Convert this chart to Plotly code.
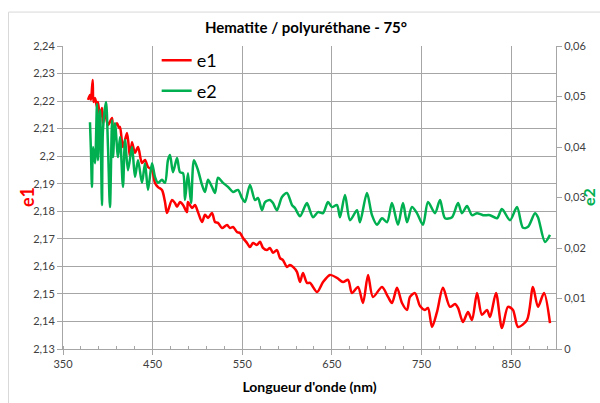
import plotly.graph_objects as go

# Wavelength (nm) and real part of the dielectric function e1
wl_e1 = [377.9, 380.1, 381.2, 383.1, 384.0, 385.7, 387.9, 389.0, 391.3, 393.5,
         394.6, 396.9, 400.2, 404.7, 405.8, 410.2, 412.5, 413.6, 416.9, 421.4,
         424.7, 427.0, 430.3, 433.7, 438.1, 441.5, 444.8, 449.3, 452.6, 456.0,
         460.4, 463.8, 466.0, 471.6, 474.9, 477.2, 480.5, 483.9, 488.3, 489.4,
         493.9, 497.3, 500.6, 505.1, 508.4, 511.8, 516.2, 519.6, 522.9, 527.4,
         533.0, 536.3, 539.7, 544.1, 547.5, 550.8, 555.3, 558.6, 562.0, 566.4,
         569.8, 573.1, 577.6, 580.9, 584.3, 588.7, 592.1, 595.4, 599.9, 603.2,
         606.6, 611.0, 614.4, 617.7, 622.2, 625.6, 633.4, 640.1, 647.9, 655.7,
         662.4, 668.0, 672.4, 679.1, 684.7, 690.3, 695.8, 705.9, 712.6, 717.0,
         722.6, 728.2, 733.8, 737.1, 742.7, 748.3, 753.8, 757.2, 761.7, 767.2,
         773.9, 781.7, 787.3, 790.7, 796.2, 801.8, 806.3, 811.9, 817.4, 823.0,
         826.4, 833.1, 839.7, 846.4, 852.0, 857.6, 867.6, 874.3, 879.9, 886.6,
         893.3]
e1 = [2.2204, 2.2222, 2.2204, 2.2277, 2.2197, 2.2211, 2.2179, 2.2197, 2.2142, 2.2175,
      2.2120, 2.2157, 2.2113, 2.2139, 2.2102, 2.2120, 2.2102, 2.2106, 2.2033, 2.2084,
      2.1997, 2.2051, 2.2012, 2.2033, 2.1975, 2.1986, 2.1961, 2.1950, 2.1903, 2.1888,
      2.1877, 2.1834, 2.1794, 2.1841, 2.1830, 2.1816, 2.1834, 2.1823, 2.1797, 2.1834,
      2.1812, 2.1823, 2.1797, 2.1761, 2.1787, 2.1776, 2.1794, 2.1761, 2.1758, 2.1739,
      2.1750, 2.1739, 2.1743, 2.1725, 2.1721, 2.1703, 2.1685, 2.1670, 2.1685, 2.1678,
      2.1689, 2.1667, 2.1659, 2.1667, 2.1649, 2.1659, 2.1630, 2.1623, 2.1598, 2.1605,
      2.1598, 2.1580, 2.1543, 2.1576, 2.1540, 2.1540, 2.1507, 2.1543, 2.1569, 2.1558,
      2.1543, 2.1551, 2.1503, 2.1525, 2.1467, 2.1569, 2.1489, 2.1525, 2.1489, 2.1467,
      2.1522, 2.1467, 2.1442, 2.1489, 2.1503, 2.1456, 2.1442, 2.1449, 2.1380, 2.1434,
      2.1522, 2.1453, 2.1463, 2.1449, 2.1398, 2.1434, 2.1405, 2.1503, 2.1424, 2.1442,
      2.1416, 2.1503, 2.1376, 2.1453, 2.1442, 2.1380, 2.1405, 2.1525, 2.1453, 2.1503,
      2.1394]

# Wavelength (nm) and imaginary part e2
wl_e2 = [380.1, 381.2, 382.3, 383.5, 385.7, 387.9, 389.0, 391.3, 393.5, 394.6,
         398.0, 400.2, 402.4, 404.7, 405.8, 408.0, 411.4, 413.6, 416.9, 419.2,
         422.5, 427.0, 430.3, 433.7, 438.1, 441.5, 444.8, 449.3, 452.6, 456.0,
         460.4, 463.8, 467.1, 469.4, 472.7, 477.2, 480.5, 483.9, 486.1, 489.4,
         492.8, 496.1, 500.6, 505.1, 508.4, 511.8, 516.2, 519.6, 522.9, 528.5,
         534.1, 539.7, 545.2, 549.7, 553.0, 558.6, 564.2, 567.5, 572.0, 575.4,
         580.9, 584.3, 588.7, 594.3, 599.9, 605.5, 608.8, 614.4, 620.0, 622.2,
         628.9, 634.5, 640.1, 645.6, 650.1, 655.7, 659.0, 664.6, 670.2, 678.0,
         681.3, 689.1, 694.7, 700.3, 705.9, 711.5, 717.0, 723.7, 729.3, 733.8,
         739.3, 744.9, 751.6, 757.2, 765.0, 770.6, 776.2, 784.0, 790.7, 795.1,
         800.7, 806.3, 811.9, 818.6, 826.4, 834.2, 839.7, 848.7, 856.5, 863.2,
         868.8, 876.6, 879.9, 887.7, 893.3]
e2 = [0.0449, 0.0390, 0.0321, 0.0400, 0.0368, 0.0485, 0.0374, 0.0473, 0.0285, 0.0434,
      0.0489, 0.0400, 0.0281, 0.0453, 0.0380, 0.0447, 0.0380, 0.0420, 0.0321, 0.0414,
      0.0354, 0.0400, 0.0341, 0.0374, 0.0329, 0.0368, 0.0315, 0.0368, 0.0341, 0.0329,
      0.0335, 0.0329, 0.0374, 0.0384, 0.0350, 0.0378, 0.0350, 0.0348, 0.0295, 0.0348,
      0.0289, 0.0374, 0.0354, 0.0325, 0.0311, 0.0335, 0.0321, 0.0309, 0.0339, 0.0329,
      0.0321, 0.0311, 0.0315, 0.0299, 0.0291, 0.0325, 0.0295, 0.0299, 0.0275, 0.0291,
      0.0295, 0.0289, 0.0275, 0.0301, 0.0309, 0.0285, 0.0279, 0.0263, 0.0283, 0.0289,
      0.0261, 0.0271, 0.0269, 0.0291, 0.0281, 0.0285, 0.0261, 0.0305, 0.0255, 0.0275,
      0.0251, 0.0309, 0.0265, 0.0246, 0.0259, 0.0251, 0.0289, 0.0246, 0.0289, 0.0251,
      0.0281, 0.0269, 0.0246, 0.0291, 0.0269, 0.0295, 0.0259, 0.0261, 0.0289, 0.0269,
      0.0283, 0.0265, 0.0269, 0.0265, 0.0265, 0.0259, 0.0277, 0.0255, 0.0281, 0.0240,
      0.0242, 0.0269, 0.0261, 0.0212, 0.0226]

x_ticks = [350, 450, 550, 650, 750, 850]

FONT = "Lato, 'Open Sans', sans-serif"
GRID = "#a6a6a6"
TICKFONT = dict(family=FONT, size=11, color="#404040")

fig = go.Figure()
fig.add_trace(go.Scatter(
    x=wl_e1, y=e1, name="e1", mode="lines", legendgroup="a",
    line=dict(color="#ff0000", width=2.5, shape="spline", smoothing=0.8),
))
fig.add_trace(go.Scatter(
    x=wl_e2, y=e2, name="e2", mode="lines", yaxis="y2", legendgroup="b",
    line=dict(color="#00b050", width=2.5, shape="spline", smoothing=0.8),
))

fig.update_layout(
    width=600, height=403,
    margin=dict(l=63, r=44, t=46, b=54),
    paper_bgcolor="white", plot_bgcolor="white",
    separators=", ",
    font=dict(family=FONT),
    showlegend=True,
    legend=dict(x=0.19, y=1.013, xanchor="left", yanchor="top",
                font=dict(family=FONT, size=18, color="#000000"),
                bgcolor="rgba(0,0,0,0)", tracegroupgap=4,
                traceorder="grouped", itemwidth=30),
    xaxis=dict(range=[350, 900], tickvals=x_ticks, showgrid=True,
               gridcolor=GRID, gridwidth=1, showline=True, linecolor=GRID,
               linewidth=1, ticks="outside", ticklen=5, tickcolor=GRID,
               minor=dict(dtick=20, tick0=350, ticks="inside", ticklen=3,
                          tickcolor=GRID, showgrid=False),
               tickfont=TICKFONT, zeroline=False,
               title=dict(text="<b>Longueur d'onde (nm)</b>", standoff=12,
                          font=dict(family=FONT, size=14, color="#000000"))),
    yaxis=dict(range=[2.13, 2.24], dtick=0.01, tick0=2.13, showgrid=True,
               gridcolor=GRID, gridwidth=1, showline=True, linecolor=GRID,
               linewidth=1, ticks="outside", ticklen=5, tickcolor=GRID,
               tickfont=TICKFONT, zeroline=False),
    yaxis2=dict(range=[0, 0.06], dtick=0.01, tick0=0, overlaying="y",
                side="right", showgrid=False, showline=True, linecolor=GRID,
                linewidth=1, ticks="outside", ticklen=5, tickcolor=GRID,
                tickfont=TICKFONT, zeroline=False),
    title=dict(text="<b>Hematite / polyuréthane - 75°</b>", x=0.51, xanchor="center",
               y=1 - 28 / 403, yanchor="middle",
               font=dict(family=FONT, size=15, color="#000000")),
)

# Chart-area frame
fig.add_shape(type="rect", xref="paper", yref="paper",
              x0=-0.1105, x1=1.1, y0=-0.25, y1=1.112,
              line=dict(color="#d9d9d9", width=1), layer="below")

# Axis titles
fig.add_annotation(text="<b>e1</b>", xref="paper", yref="paper",
                   x=(27 - 63) / 493, y=(349 - 197) / 303, showarrow=False,
                   xanchor="center", yanchor="middle",
                   textangle=-90, font=dict(family=FONT, size=18, color="#ff0000"))
fig.add_annotation(text="<b>e2</b>", xref="paper", yref="paper",
                   x=(588 - 63) / 493, y=(349 - 197) / 303, showarrow=False,
                   xanchor="center", yanchor="middle", borderpad=0,
                   textangle=-90, font=dict(family=FONT, size=16, color="#00b050"))

fig.write_html("out.html")
